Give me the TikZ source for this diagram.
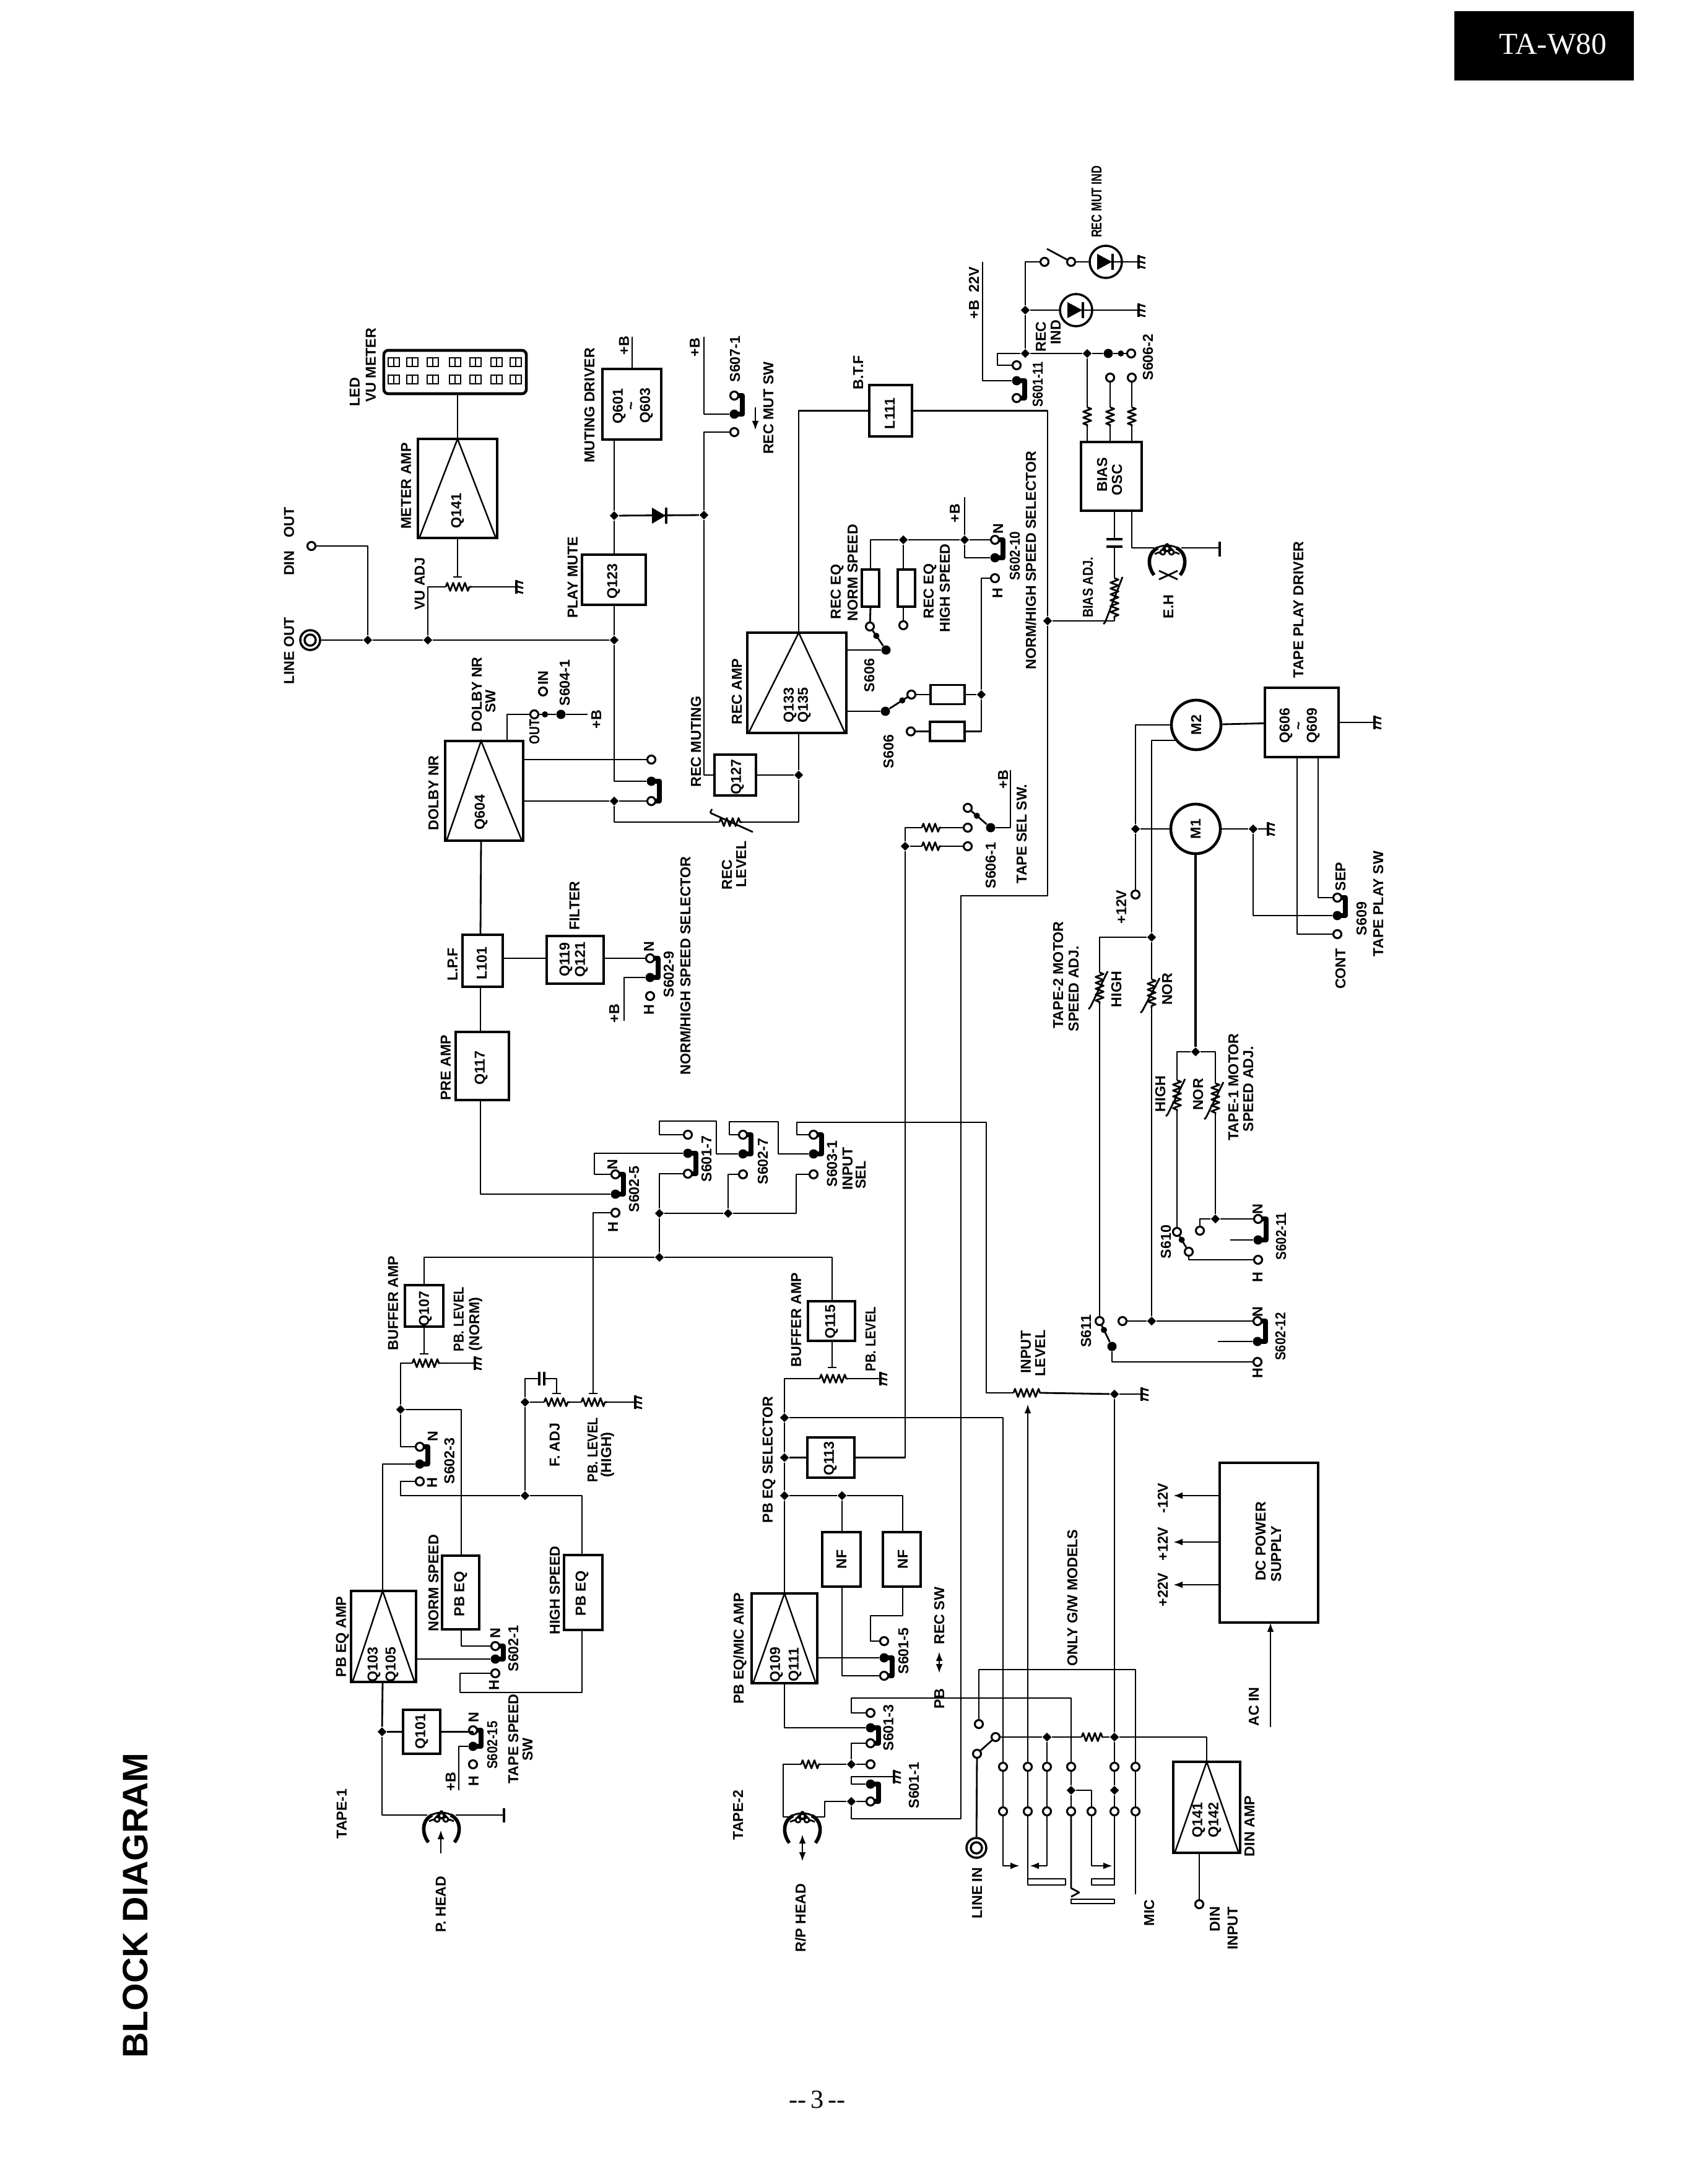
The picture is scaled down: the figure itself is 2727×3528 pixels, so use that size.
\documentclass[tikz,border=0pt]{standalone}
\usepackage{fontspec}
\setmainfont{Liberation Sans}
\newfontfamily\serifx{Liberation Serif}
\usetikzlibrary{calc,decorations.pathmorphing,arrows.meta,shapes.geometric}
\newcount\lblc
\tikzset{
  wire/.style={line width=0.8pt,line join=round},
  boxst/.style={draw,line width=1.3pt,inner sep=0,outer sep=0,rectangle},
  boxthin/.style={draw,line width=1pt,inner sep=0,outer sep=0,rectangle},
  tri/.style={line width=0.7pt},
  ocon/.style={circle,draw,fill=white,inner sep=0,minimum size=0.13cm,line width=0.9pt},
  fcon/.style={circle,fill=black,inner sep=0,minimum size=0.15cm},
  jdot/.style={diamond,fill=black,inner sep=0,minimum size=0.15cm,aspect=1},
  swbar/.style={line width=0.075cm,line join=round},
  res/.style={wire,decorate,decoration={zigzag,amplitude=0.065cm,segment length=0.095cm}},
  lab/.style={rotate=90,inner sep=0,font=\fontsize{6.6}{7}\selectfont\bfseries},
  arr/.style={wire,-{Latex[length=0.15cm,width=0.11cm]}},
  darr/.style={wire,{Latex[length=0.15cm,width=0.11cm]}-{Latex[length=0.15cm,width=0.11cm]}},
}
\newcommand\nO[3]{\node[ocon](#1) at (#2,#3){};}
\newcommand\nF[3]{\node[fcon](#1) at (#2,#3){};}
\newcommand\nJ[3]{\node[jdot](#1) at (#2,#3){};}
\newcommand\cd[3]{\coordinate (#1) at (#2,#3);}
\newcommand\lbl[3]{\global\advance\lblc by 1 \node[lab](t\the\lblc) at (#1,#2){#3};}
\newcommand\sq[2]{\scalebox{#1}[1]{#2}}
\newcommand\bx[5]{\node[boxst,minimum width={(#4-#2)*0.01cm},minimum height={(#5-#3)*0.01cm}](#1) at ({(#2+#4)/2},{(#3+#5)/2}){};}
\newcommand\amp[6]{\node[boxst,minimum width={(#4-#2)*0.01cm},minimum height={(#5-#3)*0.01cm}](#1) at ({(#2+#4)/2},{(#3+#5)/2}){};
  \coordinate (#1-top) at (#6,#3);\coordinate (#1-bot) at (#6,#5);
  \draw[tri] (#2+3,#5-2) -- (#1-top) -- (#4-3,#5-2);}
\newcommand\swb[2]{\draw[swbar] ($(#1)+(6,0)$) -- ($(#1)+(13,0)$) -- ($(#2)+(13,0)$) -- ($(#2)+(6,0)$);}
\newcommand\bld[3]{\draw[wire] (#1) -- (#2);\fill ($(#1)!#3!(#2)$) circle[radius=0.05cm];}
\newcommand\RH[4]{\coordinate (#1-a) at (#2,#4);\coordinate (#1-b) at (#3,#4);\draw[res] (#1-a) -- (#1-b);}
\newcommand\RV[4]{\coordinate (#1-a) at (#2,#3);\coordinate (#1-b) at (#2,#4);\draw[res] (#1-a) -- (#1-b);}
\newcommand\VV[3]{\draw[wire] (#1-15,#3+5) -- (#1+13,#2-2);\draw[wire] (#1-15,#3+5) -- ++(-3,3);}
\newcommand\wip[3]{\coordinate (#1) at (#2,#3);\draw[wire] (#2-7,#3) -- (#2+7,#3);}
\newcommand\G[3]{\coordinate (#1) at (#2,#3);\draw[line width=1pt] (#2,#3-11) -- (#2,#3+11);
  \foreach \gg in {-9,-1,7}{\draw[wire] (#2,#3+\gg) -- (#2+11,#3+\gg+3);}}
\newcommand\capH[3]{\coordinate (#1-a) at (#2-4,#3);\coordinate (#1-b) at (#2+4,#3);
  \draw[line width=1.2pt] (#2-4,#3-11) -- (#2-4,#3+11) (#2+4,#3-11) -- (#2+4,#3+11);}
\newcommand\capV[3]{\coordinate (#1-a) at (#2,#3-6);\coordinate (#1-b) at (#2,#3+6);
  \draw[line width=1.2pt] (#2-13,#3-6) -- (#2+13,#3-6) (#2-13,#3+6) -- (#2+13,#3+6);}
\newcommand\HEAD[3]{\coordinate (#1) at (#2,#3);
 \begin{scope}[shift={(#2,#3)}]
  \draw[line width=1.6pt] (-15,2) .. controls (-32,10) and (-32,32) .. (-21,46);
  \draw[line width=1.6pt] (15,2) .. controls (32,10) and (32,32) .. (21,46);
  \draw[wire] (-20,4) .. controls (-8,-4) and (8,-4) .. (20,4);
  \draw[wire] (-20,12) .. controls (-8,6) and (8,6) .. (20,12);
  \draw[wire] (0,-5) -- (-13,11) (0,-5) -- (13,11);
  \draw[wire,fill=white] (0,3) circle[radius=0.04cm] (-7,9) circle[radius=0.04cm] (7,9) circle[radius=0.04cm];
 \end{scope}}
\newcommand\LED[4]{\node[circle,draw,line width=1pt,inner sep=0,minimum size=0.52cm](#1) at (#2,#3){};
  \fill (#2-14,#3-13) -- (#2+10,#3) -- (#2-14,#3+13) -- cycle;
  \draw[line width=1.2pt] (#2+11,#3-13) -- (#2+11,#3+13);
  \draw[wire] (#1.center) -- (#1.east);}
\begin{document}
\begin{tikzpicture}[x=0.01cm,y=-0.01cm]
\useasboundingbox (0,0) rectangle (2727,3528);
% header and title
\fill (2349,18) rectangle (2639,130);
\node[inner sep=0,text=white,font=\serifx\fontsize{14}{15}\selectfont](ttl) at (2508,72){TA-W80};
\node[rotate=90,inner sep=0,font=\fontsize{16.3}{18}\selectfont\bfseries](blk) at (219,3078){BLOCK DIAGRAM};
\node[inner sep=0,font=\serifx\fontsize{12}{14}\selectfont](pg) at (1320,3392){--\,3\,--};
% ---------- TAPE-1
\amp{pbeq}{567}{2570}{672}{2717}{618}
\bx{pe1}{714}{2513}{774}{2632}
\bx{pe2}{911}{2512}{973}{2633}
\bx{qa}{651}{2762}{711}{2833}
\bx{qb}{654}{2076}{716}{2143}
\cd{pbeq-r}{672}{2680}\cd{pe1-t}{745}{2513}\cd{pe1-b}{745}{2632}\cd{pe2-t}{940}{2512}\cd{pe2-b}{940}{2633}
\cd{qb-t}{685}{2076}\cd{qb-b}{685}{2143}
\nO{s3n}{678}{2337}\nF{s3c}{678}{2365}\nO{s3h}{678}{2393}\swb{s3n}{s3c}
\nO{s1n}{800}{2659}\nF{s1c}{800}{2680}\nO{s1h}{800}{2703}\swb{s1n}{s1c}
\nO{s15n}{764}{2795}\nF{s15c}{764}{2821}\nO{s15h}{764}{2850}\swb{s15n}{s15c}
\nJ{j1}{647}{2277}\nJ{j3}{848}{2416}\nJ{j4}{848}{2265}\nJ{j0}{617}{2797.5}
\RH{r1}{666}{711}{2202}\G{g1}{767}{2202}\wip{w1}{685}{2187}
\RH{r2}{879}{921}{2265}\RH{r3}{939}{981}{2265}\G{g2}{1026}{2265}\wip{w2}{958}{2251}\wip{w3}{899}{2251}
\capH{c1}{875}{2227}
\HEAD{h1}{713}{2930}\cd{h1l}{690}{2932}\cd{h1r}{736}{2932}\cd{h1e}{814}{2932}
\cd{bp1}{741}{2892}
\draw[line width=1.3pt] (814,2921) -- (814,2944);
\draw[arr] (712,2994) -- (712,2956);
\draw[wire] (pbeq-top) |- (s3c);
\draw[wire] (s3n) -- (647,2337) -- (j1);
\draw[wire] (j1) -- (647,2202) -- (r1-a);
\draw[wire] (r1-b) -- (g1);
\draw[wire] (qb-b) -- (w1);
\draw[wire] (j1) -- (745,2277) -- (pe1-t);
\draw[wire] (pe1-b) -- (745,2659) -- (s1n);
\draw[wire] (pbeq-r) -- (s1c);
\draw[wire] (s1h) -- (743,2703) -- (743,2734) -- (940,2734) -- (pe2-b);
\draw[wire] (pe2-t) -- (940,2416) -- (j3);
\draw[wire] (j3) -- (647,2416) -- (647,2393) -- (s3h);
\draw[wire] (j3) -- (j4);
\draw[wire] (j4) -- (r2-a);\draw[wire] (r2-b) -- (r3-a);\draw[wire] (r3-b) -- (g2);
\draw[wire] (j4) -- (848,2227) -- (c1-a);\draw[wire] (c1-b) -- (899,2227) -- (w3);
\draw[wire] (pbeq-bot) -- (j0);\draw[wire] (j0) -- (617,2932) -- (h1l);
\draw[wire] (j0) -- (qa);\draw[wire] (qa) -- (764,2797.5) -- (s15n);
\draw[wire] (s15c) -- (741,2821) -- (bp1);
\draw[wire] (h1r) -- (h1e);
% ---------- input selector
\bx{qc}{736}{1667}{822}{1777}\cd{qc-b}{776}{1777}\cd{qc-t}{776}{1667}
\nO{s5n}{994}{1897}\nF{s5c}{994}{1929}\nO{s5h}{994}{1959}\swb{s5n}{s5c}
\nO{s7t}{1111}{1833}\nF{s7c}{1111}{1863}\nO{s7l}{1111}{1896}\swb{s7c}{s7l}
\nO{s27t}{1200}{1833}\nF{s27c}{1200}{1864}\nO{s27l}{1200}{1897}\swb{s27t}{s27c}
\nO{s31t}{1314}{1833}\nF{s31c}{1314}{1864}\nO{s31l}{1314}{1897}\swb{s31t}{s31c}
\nJ{j5}{1065}{1960}\nJ{j6}{1176}{1960}\nJ{j7}{1065}{2031}
\RH{r4}{1637}{1684}{2250}
\draw[wire] (w2) -- (958,1959) -- (s5h);
\draw[wire] (s5c) -- (776,1929) -- (qc-b);
\draw[wire] (s5n) -- (960,1897) -- (960,1863) -- (s7c);
\draw[wire] (s7l) -- (1065,1896) -- (j5);
\draw[wire] (s7t) -- (1065,1833) -- (1065,1811) -- (1157,1811) -- (1157,1864) -- (s27c);
\draw[wire] (s27t) -- (1178,1833) -- (1178,1812) -- (1257,1812) -- (1257,1864) -- (s31c);
\draw[wire] (s31t) -- (1287,1833) -- (1287,1813) -- (1593,1813) -- (1593,2250) -- (r4-a);
\draw[wire] (s31l) -- (1286,1897) -- (1286,1960) -- (j6);
\draw[wire] (j6) -- (1176,1897) -- (s27l);
\draw[wire] (j6) -- (j5);\draw[wire] (j5) -- (j7);
\draw[wire] (j7) -- (685,2031) -- (qb-t);
% ---------- TAPE-2
\amp{pbm}{1214}{2574}{1320}{2719}{1267}
\bx{qd}{1305}{2102}{1381}{2166}\cd{qd-t}{1344}{2102}\cd{qd-b}{1344}{2166}
\bx{qe}{1304}{2322}{1380}{2387}
\bx{nf1}{1328}{2475}{1390}{2563}\bx{nf2}{1426}{2475}{1487}{2563}
\cd{nf1-t}{1360}{2475}\cd{nf1-b}{1360}{2563}\cd{nf2-t}{1458}{2475}\cd{nf2-b}{1458}{2563}\cd{pbm-r}{1320}{2678}
\nJ{j8}{1267}{2290}\nJ{j9}{1267}{2354.5}\nJ{j10}{1267}{2416}\nJ{j11}{1360}{2416}
\wip{w4}{1344}{2209}\RH{r5}{1324}{1369}{2227}\G{g3}{1422}{2227}
\nO{s15t}{1428}{2651}\nF{s15m}{1428}{2678}\nO{s15l}{1428}{2707}\swb{s15m}{s15l}
\nO{s13t}{1406}{2767}\nF{s13c}{1406}{2791}\nO{s13l}{1406}{2816}\swb{s13c}{s13l}
\nO{s11u}{1406}{2850}\nF{s11c}{1406}{2882}\nO{s11l}{1406}{2910}\swb{s11c}{s11l}
\nJ{j12}{1375}{2850}\nJ{j13}{1375}{2910}
\RH{r8}{1294}{1325}{2850}\G{g4}{1444}{2870}
\HEAD{h2}{1296}{2931}\cd{h2l}{1276}{2935}\cd{h2r}{1316}{2935}
\draw[darr] (1296,2963) -- (1296,3007);
\draw[darr] (1517,2668) -- (1517,2703);
\draw[wire] (j7) -- (1344,2031) -- (qd-t);
\draw[wire] (qd-b) -- (w4);
\draw[wire] (r5-a) -- (1267,2227) -- (j8);\draw[wire] (r5-b) -- (g3);
\draw[wire] (j8) -- (j9);\draw[wire] (j9) -- (j10);\draw[wire] (j10) -- (pbm-top);
\draw[wire] (j9) -- (qe);
\draw[wire] (j10) -- (j11);
\draw[wire] (j11) -- (nf1-t);
\draw[wire] (j11) -- (1458,2416) -- (nf2-t);
\draw[wire] (nf1-b) -- (1360,2707) -- (s15l);
\draw[wire] (nf2-b) -- (1458,2610) -- (1406,2610) -- (1406,2651) -- (s15t);
\draw[wire] (pbm-r) -- (s15m);
\draw[wire] (pbm-bot) -- (1267,2791) -- (s13c);
\draw[wire] (s13l) -- (1375,2816) -- (j12);
\draw[wire] (j12) -- (s11u);\draw[wire] (j12) -- (r8-b);
\draw[wire] (r8-a) -- (1265,2850) -- (1265,2935) -- (h2l);
\draw[wire] (s11c) -- (1375,2882) -- (1375,2870) -- (g4);
\draw[wire] (s11l) -- (j13);
\draw[wire] (j13) -- (1332,2910) -- (1332,2935) -- (h2r);
% ---------- line input matrix
\node[circle,draw,line width=1pt,inner sep=0,minimum size=0.32cm](lji) at (1577,2985){};
\node[circle,draw,line width=1pt,inner sep=0,minimum size=0.18cm](ljj) at (1577,2985){};
\nO{sw1}{1578}{2833}\nO{sw2}{1608}{2806}\nO{swt}{1581}{2785}
\draw[wire] (sw1) -- (sw2);
\nJ{j31}{1691}{2806}\nJ{j30}{1800}{2806}\nJ{j32}{1730}{2892}\nJ{j33}{1800}{2892}\nJ{j40}{1800}{2252}
\RH{r9}{1747}{1781}{2806}\G{g5}{1844}{2252}
\foreach \nn/\xx in {a/1620,b/1660,c/1691,d/1730,f/1800,g/1834}{\node[ocon](ct\nn) at (\xx,2854){};\node[ocon](cb\nn) at (\xx,2926){};}
\nO{cbe}{1763}{2926}
\cd{a1}{1647}{3014}\cd{a2}{1663}{3014}\cd{a3}{1797}{3014}\cd{wp}{1660}{2268}\cd{mic}{1834}{3060}
\draw[wire] (lji) -- (sw1);
\draw[wire] (swt) -- (1581,2697) -- (1834,2697) -- (ctg);
\draw[wire] (sw2) -- (j31);\draw[wire] (j31) -- (r9-a);\draw[wire] (r9-b) -- (j30);
\draw[wire] (r4-b) -- (j40);\draw[wire] (j40) -- (g5);\draw[wire] (j40) -- (j30);
\draw[wire] (j8) -- (1620,2290) -- (cta);
\draw[arr] (ctb) -- (wp);
\draw[wire] (cta) -- (cba);\draw[arr] (cba) -- (1620,3014) -- (a1);
\draw[wire] (ctb) -- (cbb);\draw[wire] (cbb) -- (1660,3035);
\draw[wire] (1660,3035) rectangle (1721,3045);
\draw[wire] (j31) -- (ctc);\draw[wire] (ctc) -- (cbc);\draw[arr] (cbc) -- (1691,3014) -- (a2);
\draw[wire] (s13t) -- (1375,2767) -- (1375,2743) -- (1730,2743) -- (ctd);
\draw[wire] (ctd) -- (j32);\draw[wire] (j32) -- (cbd);\draw[wire] (cbd) -- (1730,3050) -- (1743,3057) -- (1730,3064);
\draw[wire] (1730,3068) rectangle (1800,3075);
\draw[wire] (j32) -- (1763,2892) -- (cbe);\draw[arr] (cbe) -- (1763,3014) -- (a3);
\draw[wire] (j30) -- (ctf);\draw[wire] (ctf) -- (j33);\draw[wire] (j33) -- (cbf);\draw[wire] (cbf) -- (1800,3035);
\draw[wire] (1763,3035) rectangle (1800,3045);
\draw[wire] (ctg) -- (cbg);\draw[wire] (cbg) -- (mic);
% DIN amp, power
\amp{din}{1895}{2846}{2003}{2993}{1949}
\nO{dinin}{1937}{3076}\cd{din-b}{1937}{2993}
\draw[wire] (din-top) -- (1949,2806) -- (j30);
\draw[wire] (din-b) -- (dinin);
\node[boxst,minimum width=1.59cm,minimum height=2.58cm](dc) at (2049.5,2492){};
\cd{dc1}{1970}{2416}\cd{dc2}{1970}{2491}\cd{dc3}{1970}{2560}\cd{tp1}{1895}{2416}\cd{tp2}{1895}{2491}\cd{tp3}{1895}{2560}
\cd{acb}{2052}{2790}\cd{act}{2052}{2621}
\draw[arr] (dc1) -- (tp1);\draw[arr] (dc2) -- (tp2);\draw[arr] (dc3) -- (tp3);
\draw[arr] (acb) -- (act);
% ---------- PB EQ selector to rec
\nJ{jr}{1462}{1367}
\RH{r6}{1489}{1520}{1337}\RH{r7}{1489}{1520}{1367}
\nO{s61a}{1563}{1337}\nO{s61b}{1563}{1367}\nO{s61t}{1563}{1305}\nF{s61c}{1600}{1337}\cd{bp2}{1632}{1244}
\bld{s61c}{s61t}{0.6}
\draw[wire] (qe) -- (1462,2354.5) -- (jr);
\draw[wire] (jr) -- (1462,1337) -- (r6-a);\draw[wire] (jr) -- (r7-a);
\draw[wire] (r6-b) -- (s61a);\draw[wire] (r7-b) -- (s61b);
\draw[wire] (s61c) -- (1632,1337) -- (bp2);
% ---------- upper chain
\amp{dol}{719}{1197}{845}{1358}{777}
\bx{lpf}{747}{1510}{812}{1594}\bx{flt}{883}{1512}{975}{1589}
\cd{lpf-t}{776}{1510}\cd{lpf-b}{776}{1594}\cd{lpfr}{812}{1548}\cd{fltl}{883}{1548}\cd{fltr}{975}{1548}
\cd{dol1}{845}{1227}\cd{dol2}{845}{1294}\cd{dolt}{819}{1197}
\draw[wire] (dol-bot) -- (lpf-t);\draw[wire] (lpf-b) -- (qc-t);\draw[wire] (lpfr) -- (fltl);
\nO{s9n}{1050}{1548}\nF{s9c}{1050}{1579}\nO{s9h}{1050}{1609}\swb{s9n}{s9c}\cd{bp3}{1008}{1649}
\draw[wire] (fltr) -- (s9n);\draw[wire] (s9c) -- (1008,1579) -- (bp3);
\nO{s64o}{863}{1154}\nF{s64c}{906}{1154}\nO{s64i}{877}{1117}\cd{bp4}{949}{1154}
\bld{s64c}{s64o}{0.6}
\draw[wire] (dolt) -- (819,1154) -- (s64o);\draw[wire] (s64c) -- (bp4);
\nO{nr1}{1052}{1227}\nO{nr2}{1052}{1294}\nF{nrc}{1052}{1262}\swb{nrc}{nr2}
\nJ{j60}{992}{1294}\nJ{j61}{992}{1034}\nJ{j62}{1290}{1252}\nJ{j63}{1137}{832}\nJ{j64}{594}{1034}\nJ{j65}{691}{1034}\nJ{j66}{992}{833}
\node[circle,draw,line width=1pt,inner sep=0,minimum size=0.32cm](jl) at (501,1034){};
\node[circle,draw,line width=1pt,inner sep=0,minimum size=0.18cm](jl2) at (501,1034){};
\nO{dino}{503}{882}
\amp{rec}{1207}{1022}{1367}{1184}{1290}
\bx{qf}{1154}{1219}{1221}{1285}
\RH{rl}{1162}{1199}{1328}
\draw[wire] (1147,1313) -- (1216,1344);\draw[wire] (1147,1313) -- ++(3,-6);
\draw[wire] (dol1) -- (nr1);\draw[wire] (dol2) -- (j60);\draw[wire] (j60) -- (nr2);
\draw[wire] (nrc) -- (992,1262) -- (j61);
\draw[wire] (j60) -- (992,1328) -- (rl-a);
\draw[wire] (rl-b) -- (1290,1328) -- (j62);\draw[wire] (j62) -- (rec-bot);\draw[wire] (j62) -- (qf);
\nO{s7o}{1186}{698}\nO{s7a}{1186}{639}\nF{s7f}{1186}{669}\swb{s7a}{s7f}\cd{bp5}{1137}{544}
\draw[wire] (qf) -- (1137,1252) -- (j63);\draw[wire] (j63) -- (1137,698) -- (s7o);
\draw[wire] (s7f) -- (1137,669) -- (bp5);
\draw[arr] (1220,658) -- (1220,695);
\draw[wire] (jl) -- (j64);\draw[wire] (j64) -- (j65);\draw[wire] (j65) -- (j61);
\draw[wire] (j64) -- (594,882) -- (dino);
\RH{rvu}{720}{762}{948}\wip{w5}{739}{932}\G{g6}{834}{948}
\amp{met}{675}{709}{803}{869}{739}
\node[boxst,minimum width=2.3cm,minimum height=0.7cm,rounded corners=2pt](ledm) at (735,601){};
\cd{led-b}{739}{636}
\foreach \lx in {636,666,699,735,768,802,833}{\foreach \ly in {585,613}{\draw[line width=0.7pt] (\lx-9,\ly-7) rectangle (\lx+9,\ly+7);\draw[line width=0.5pt] (\lx,\ly-7) -- (\lx,\ly+7);}}
\draw[wire] (j65) -- (691,948) -- (rvu-a);\draw[wire] (rvu-b) -- (g6);
\draw[wire] (met-bot) -- (w5);\draw[wire] (met-top) -- (led-b);
\bx{qg}{940}{896}{1043}{977}\bx{qh}{973}{596}{1068}{710}
\cd{qg-t}{992}{896}\cd{qg-b}{992}{977}\cd{qh-b}{992}{710}\cd{qh-t}{1021}{596}\cd{bp6}{1021}{544}
\draw[wire] (j61) -- (qg-b);\draw[wire] (qg-t) -- (j66);\draw[wire] (j66) -- (qh-b);\draw[wire] (qh-t) -- (bp6);
\draw[wire] (j66) -- (j63);
\fill (1053,820) -- (1075,833) -- (1053,846) -- cycle;
\draw[line width=1.2pt] (1076,820) -- (1076,846);
% ---------- REC EQ etc
\bx{lb}{1404}{622}{1473}{705}
\nJ{j20}{1692}{1003}
\cd{recr1}{1367}{1050}\cd{recr2}{1367}{1149}
\nF{sa}{1431}{1050}\nO{sb}{1405}{1012}\bld{sa}{sb}{0.6}
\nF{sc}{1430}{1149}\nO{sd}{1472}{1122}\bld{sc}{sd}{0.65}\nO{se}{1471}{1181.5}\nO{sf}{1459}{1010}
\node[boxthin,minimum width=0.28cm,minimum height=0.6cm](eq1) at (1406,950){};
\node[boxthin,minimum width=0.28cm,minimum height=0.6cm](eq2) at (1464,950){};
\node[boxthin,minimum width=0.55cm,minimum height=0.31cm](eq3) at (1530.5,1122){};
\node[boxthin,minimum width=0.56cm,minimum height=0.31cm](eq4) at (1530,1181.5){};
\cd{eq1-t}{1406}{920}\cd{eq1-b}{1406}{980}\cd{eq2-t}{1459}{920}\cd{eq2-b}{1459}{980}
\nJ{j70}{1459}{872}\nJ{j71}{1558}{872}\nJ{j72}{1585}{1122}
\nO{s10n}{1607}{872}\nF{s10f}{1607}{901}\nO{s10h}{1607}{934}\swb{s10n}{s10f}\cd{bp7}{1558}{803}
\draw[wire] (recr1) -- (sa);\draw[wire] (recr2) -- (sc);
\draw[wire] (sb) -- (eq1-b);\draw[wire] (sf) -- (eq2-b);
\draw[wire] (sd) -- (eq3);\draw[wire] (se) -- (eq4);
\draw[wire] (eq3) -- (j72);\draw[wire] (eq4) -- (1585,1181.5) -- (j72);
\draw[wire] (j72) -- (1585,934) -- (s10h);
\draw[wire] (eq1-t) -- (1406,872) -- (j70);\draw[wire] (j70) -- (eq2-t);
\draw[wire] (j70) -- (j71);\draw[wire] (j71) -- (s10n);
\draw[wire] (s10f) -- (1558,901) -- (j71);\draw[wire] (j71) -- (bp7);
\draw[wire] (rec-top) -- (1290,663.5) -- (lb);
\draw[wire] (lb) -- (1692,663.5) -- (j20);
\draw[wire] (j13) -- (1375,2938) -- (1552,2938) -- (1552,1447) -- (1692,1447) -- (j20);
% ---------- bias
\node[boxst,minimum width=0.98cm,minimum height=1.11cm](bi) at (1795,769.5){};
\cd{bi1}{1756}{714}\cd{bi2}{1793}{714}\cd{bi3}{1828}{714}\cd{bi4}{1800}{825}\cd{bi5}{1828}{825}
\RV{rb1}{1756}{658}{689}\RV{rb2}{1793}{658}{689}\RV{rb3}{1828}{658}{689}
\nJ{j80}{1656}{571}\nJ{j81}{1656}{501}\nJ{j82}{1756}{571}\nF{j83}{1790}{571}\nO{o3}{1827}{571}\nO{o4}{1793}{610}\nO{o5}{1828}{610}
\bld{j83}{o3}{0.55}
\draw[wire] (j80) -- (j82);\draw[wire] (j82) -- (j83);
\draw[wire] (j82) -- (rb1-a);\draw[wire] (o4) -- (rb2-a);\draw[wire] (o5) -- (rb3-a);
\draw[wire] (rb1-b) -- (bi1);\draw[wire] (rb2-b) -- (bi2);\draw[wire] (rb3-b) -- (bi3);
\nO{s17t}{1642}{590}\nF{s17c}{1642}{615}\nO{s17l}{1642}{643}\swb{s17c}{s17l}\cd{bp8}{1587}{423}
\draw[wire] (bp8) -- (1587,615) -- (s17c);
\draw[wire] (s17t) -- (1611,590) -- (1611,571) -- (j80);
\draw[wire] (j80) -- (j81);
\nO{o1}{1687}{423}\nO{o2}{1730}{423}\cd{bl}{1691}{402}
\draw[wire] (j81) -- (1656,423) -- (o1);\draw[wire] (o2) -- (bl);
\LED{ld1}{1786}{423}{}\LED{ld2}{1738}{501}{}
\G{g7}{1839}{423}\G{g8}{1839}{501}
\draw[wire] (o2) -- (ld1);\draw[wire] (ld1) -- (g7);\draw[wire] (j81) -- (ld2);\draw[wire] (ld2) -- (g8);
\capV{cb}{1800}{877}\RV{rb}{1800}{934}{1000}\VV{1800}{934}{1000}
\draw[wire] (bi4) -- (cb-a);\draw[wire] (cb-b) -- (rb-a);
\draw[wire] (rb-b) -- (1800,1003) -- (j20);
\HEAD{h3}{1885}{883}\cd{h3l}{1864}{885}\cd{h3r}{1908}{885}\cd{h3e}{1970}{885}
\draw[wire] (bi5) -- (1828,885) -- (h3l);\draw[wire] (h3r) -- (h3e);
\draw[line width=1.3pt] (1970,875) -- (1970,899);
\draw[wire] (1872,922) -- (1902,936) (1872,936) -- (1902,922);
% ---------- motors
\node[circle,draw,line width=1.3pt,fill=white,inner sep=0,minimum size=0.8cm](m1) at (1931,1339){};
\node[circle,draw,line width=1.3pt,fill=white,inner sep=0,minimum size=0.8cm](m2) at (1932,1171){};
\bx{qi}{2043}{1111}{2162}{1223}
\cd{qi1}{2095}{1223}\cd{qi2}{2129}{1223}
\nJ{j90}{1834}{1339}\nJ{j91}{2024}{1339}\nJ{j50}{1860}{1514}\nJ{j53}{1931}{1699}\nJ{j51}{1860}{2134}\nJ{j52}{1963}{1969}
\nO{v12}{1834}{1445}\G{g9}{2048}{1339}\G{g10}{2220}{1167}
\nO{sep}{2160}{1450}\nF{scm}{2160}{1479}\nO{cont}{2160}{1509}\swb{sep}{scm}
\cd{m2a}{1900}{1196}\cd{m2b}{1893}{1171}
\draw[wire] (j90) -- (m1);\draw[wire] (m1) -- (j91);\draw[wire] (j91) -- (g9);
\draw[wire] (j91) -- (2024,1479) -- (scm);
\draw[wire] (sep) -- (2129,1450) -- (qi2);
\draw[wire] (cont) -- (2095,1509) -- (qi1);
\draw[wire] (m2) -- (qi);\draw[wire] (qi) -- (g10);
\draw[wire] (m2b) -- (1834,1171) -- (j90);\draw[wire] (j90) -- (v12);
\draw[wire] (m2a) -- (1860,1196) -- (j50);
\RV{rt1}{1776}{1571}{1622}\VV{1776}{1571}{1622}
\RV{rt2}{1860}{1582}{1628}\VV{1860}{1582}{1628}
\RV{rt3}{1901}{1745}{1795}\VV{1901}{1745}{1795}
\RV{rt4}{1963}{1750}{1800}\VV{1963}{1750}{1800}
\nO{s611a}{1776}{2134}\nO{s611b}{1813}{2134}\nF{s611c}{1796}{2175}\bld{s611c}{s611a}{0.65}
\nO{s12n}{2031}{2134}\nF{s12f}{2031}{2167}\nO{s12h}{2031}{2200}\swb{s12n}{s12f}\cd{fr1}{1967}{2167}
\nO{s610a}{1901}{1990}\nO{s610c}{1920}{2022}\nO{s610b}{1938}{1988}\bld{s610c}{s610a}{0.6}
\nO{s11n}{2032}{1969}\nF{s11f}{2032}{2003}\nO{s11h}{2032}{2035}\swb{s11n}{s11f}\cd{fr2}{1987}{2003}
\draw[wire] (s611a) -- (rt1-b);\draw[wire] (rt1-a) -- (1776,1514) -- (j50);
\draw[wire] (j50) -- (rt2-a);\draw[wire] (rt2-b) -- (j51);
\draw[wire] (s611b) -- (j51);\draw[wire] (j51) -- (s12n);
\draw[wire] (s611c) -- (1796,2200) -- (s12h);\draw[wire] (s12f) -- (fr1);
\draw[wire] (s610c) -- (1920,2035) -- (s11h);
\draw[wire] (s610b) -- (1938,1969) -- (j52);\draw[wire] (j52) -- (s11n);\draw[wire] (s11f) -- (fr2);
\draw[wire] (j52) -- (rt4-b);\draw[wire] (rt4-a) -- (1963,1699) -- (j53);
\draw[wire] (j53) -- (1901,1699) -- (rt3-a);\draw[wire] (rt3-b) -- (s610a);
\draw[wire,line width=1.1pt] (m1) -- (j53);
% ---------- labels
\lbl{467}{1051}{LINE OUT}\lbl{467}{910}{DIN}\lbl{467}{844}{OUT}
\lbl{573}{633}{LED}\lbl{599}{590}{VU METER}
\lbl{656}{785}{METER AMP}\lbl{739}{825}{Q141}\lbl{678}{943}{VU ADJ}
\lbl{952}{655}{MUTING DRIVER}\lbl{1000}{656}{Q601}\lbl{1022}{656}{\textasciitilde}\lbl{1044}{655}{Q603}\lbl{1008}{558}{+B}
\lbl{925}{933}{PLAY MUTE}\lbl{991}{939}{Q123}
\lbl{700}{1281}{DOLBY NR}\lbl{777}{1312}{Q604}\lbl{770}{1122}{DOLBY NR}\lbl{792}{1133}{SW}
\lbl{877}{1095}{IN}\lbl{912}{1103}{S604-1}\lbl{863}{1182}{\sq{.82}{OUT}}\lbl{963}{1162}{+B}
\lbl{731}{1558}{L.P.F}\lbl{778}{1556}{L101}\lbl{928}{1463}{FILTER}\lbl{914}{1550}{Q119}\lbl{939}{1550}{Q121}
\lbl{720}{1725}{PRE AMP}\lbl{777}{1725}{Q117}
\lbl{992}{1637}{+B}\lbl{1048}{1529}{N}\lbl{1048}{1631}{H}\lbl{1080}{1574}{S602-9}\lbl{1107}{1560}{NORM/HIGH SPEED SELECTOR}
\lbl{1122}{561}{+B}\lbl{1187}{580}{S607-1}\lbl{1241}{659}{REC MUT SW}
\lbl{1124}{1198}{REC MUTING}\lbl{1191}{1255}{Q127}\lbl{1190}{1117}{REC AMP}\lbl{1276}{1139}{Q133}\lbl{1299}{1139}{Q135}
\lbl{1174}{1413}{REC}\lbl{1197}{1396}{LEVEL}
\lbl{1386}{602}{B.T.F}\lbl{1437}{668}{L111}
\lbl{1352}{956}{REC EQ}\lbl{1377}{925}{NORM SPEED}\lbl{1502}{955}{REC EQ}\lbl{1526}{950}{HIGH SPEED}
\lbl{1542}{829}{+B}\lbl{1612}{854}{N}\lbl{1611}{958}{H}\lbl{1639}{898}{\sq{.9}{S602-10}}\lbl{1665}{905}{NORM/HIGH SPEED SELECTOR}
\lbl{1404}{1091}{S606}\lbl{1435}{1214}{S606}
\lbl{1650}{1347}{TAPE SEL SW.}\lbl{1600}{1398}{S606-1}\lbl{1620}{1259}{+B}
\lbl{1573}{473}{+B\ \ 22V}\lbl{1676}{621}{\sq{.85}{S601-11}}\lbl{1681}{544}{REC}\lbl{1705}{537}{IND}\lbl{1771}{326}{\sq{.76}{REC MUT IND}}\lbl{1854}{577}{S606-2}
\lbl{1780}{767}{BIAS}\lbl{1804}{775}{OSC}\lbl{1757}{949}{\sq{.85}{BIAS ADJ.}}\lbl{1887}{980}{E.H}
\lbl{2097}{985}{TAPE PLAY DRIVER}\lbl{2077}{1172}{Q606}\lbl{2100}{1173}{\textasciitilde}\lbl{2121}{1172}{Q609}
\lbl{1932}{1171}{M2}\lbl{1931}{1339}{M1}\lbl{1811}{1465}{+12V}
\lbl{2165}{1565}{CONT}\lbl{2165}{1416}{SEP}\lbl{2199}{1484}{S609}\lbl{2226}{1460}{TAPE PLAY SW}
\lbl{1709}{1575}{TAPE-2 MOTOR}\lbl{1734}{1597}{SPEED ADJ.}\lbl{1803}{1598}{HIGH}\lbl{1885}{1598}{NOR}
\lbl{1874}{1767}{HIGH}\lbl{1935}{1768}{NOR}\lbl{1992}{1756}{TAPE-1 MOTOR}\lbl{2016}{1759}{SPEED ADJ.}
\lbl{1883}{2006}{S610}\lbl{1754}{2150}{S611}\lbl{2031}{1953}{N}\lbl{2031}{2063}{H}\lbl{2069}{1997}{\sq{.88}{S602-11}}
\lbl{2031}{2119}{N}\lbl{2031}{2218}{H}\lbl{2068}{2159}{\sq{.88}{S602-12}}
\lbl{989}{1881}{N}\lbl{990}{1982}{H}\lbl{1024}{1921}{S602-5}\lbl{1141}{1872}{S601-7}\lbl{1232}{1876}{S602-7}\lbl{1344}{1880}{S603-1}\lbl{1369}{1888}{INPUT}\lbl{1390}{1898}{SEL}
\lbl{635}{2105}{BUFFER AMP}\lbl{687}{2114}{Q107}\lbl{741}{2131}{\sq{.87}{PB. LEVEL}}\lbl{768}{2139}{(NORM)}
\lbl{896}{2334}{F. ADJ}\lbl{957}{2342}{\sq{.87}{PB. LEVEL}}\lbl{981}{2350}{(HIGH)}
\lbl{699}{2320}{N}\lbl{698}{2395}{H}\lbl{726}{2360}{S602-3}
\lbl{553}{2644}{PB EQ AMP}\lbl{604}{2689}{Q103}\lbl{633}{2689}{Q105}
\lbl{700}{2557}{NORM SPEED}\lbl{744}{2575}{PB EQ}\lbl{896}{2569}{HIGH SPEED}\lbl{940}{2574}{PB EQ}
\lbl{800}{2638}{N}\lbl{798}{2722}{H}\lbl{829}{2663}{S602-1}\lbl{681}{2797}{Q101}
\lbl{728}{2878}{+B}\lbl{765}{2774}{N}\lbl{765}{2877}{H}\lbl{795}{2819}{\sq{.88}{S602-15}}\lbl{829}{2809}{TAPE SPEED}\lbl{852}{2826}{SW}
\lbl{552}{2930}{TAPE-1}\lbl{712}{3076}{P. HEAD}\lbl{1293}{3098}{R/P HEAD}\lbl{1192}{2932}{TAPE-2}
\lbl{1286}{2132}{BUFFER AMP}\lbl{1343}{2135}{Q115}\lbl{1406}{2163}{\sq{.87}{PB. LEVEL}}
\lbl{1657}{2184}{INPUT}\lbl{1680}{2186}{LEVEL}
\lbl{1242}{2358}{PB EQ SELECTOR}\lbl{1341}{2356}{Q113}\lbl{1195}{2663}{PB EQ/MIC AMP}\lbl{1254}{2689}{Q109}\lbl{1284}{2689}{Q111}
\lbl{1359}{2519}{NF}\lbl{1458}{2519}{NF}\lbl{1459}{2667}{S601-5}\lbl{1517}{2610}{REC SW}\lbl{1517}{2744}{PB}
\lbl{1435}{2791}{S601-3}\lbl{1476}{2884}{S601-1}\lbl{1578}{3058}{LINE IN}\lbl{1732}{2581}{ONLY G/W MODELS}
\lbl{1878}{2420}{-12V}\lbl{1878}{2494}{+12V}\lbl{1878}{2568}{+22V}\lbl{2036}{2490}{DC POWER}\lbl{2061}{2510}{SUPPLY}
\lbl{1856}{3090}{MIC}\lbl{1936}{2940}{Q141}\lbl{1962}{2940}{Q142}\lbl{2018}{2950}{DIN AMP}\lbl{1962}{3100}{DIN}\lbl{1991}{3115}{INPUT}\lbl{2025}{2757}{AC IN}
\end{tikzpicture}
\end{document}
